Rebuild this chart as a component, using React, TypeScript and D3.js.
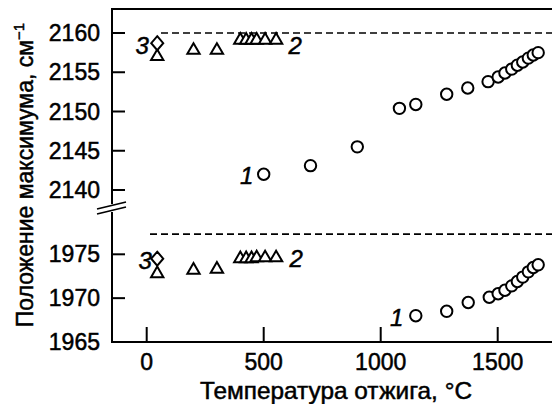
import React from 'react';
import { scaleLinear, symbol, symbolTriangle } from 'd3';

// series 1 (circles), 2 (triangles), 3 (diamond) — upper band and lower band
const tempCircUp = [500, 700, 900, 1080, 1150, 1282, 1372, 1459, 1502, 1531, 1560, 1584, 1607, 1631, 1652, 1673];
const valCircUp = [2142.0, 2143.1, 2145.5, 2150.4, 2150.9, 2152.2, 2153.0, 2153.8, 2154.4, 2154.9, 2155.4, 2155.9, 2156.3, 2156.8, 2157.2, 2157.5];
const tempCircLo = [1150, 1282, 1374, 1464, 1502, 1531, 1560, 1584, 1607, 1631, 1652, 1673];
const valCircLo = [1968.0, 1968.5, 1969.5, 1970.1, 1970.5, 1970.9, 1971.4, 1971.9, 1972.4, 1973.0, 1973.5, 1973.8];
const tempTri = [45, 200, 300, 400, 425, 448, 470, 506, 553];
const valTriUp = [2157.0, 2157.8, 2157.8, 2159.1, 2159.1, 2159.1, 2159.1, 2159.1, 2159.1];
const valTriLo = [1972.8, 1973.2, 1973.3, 1974.5, 1974.5, 1974.5, 1974.6, 1974.6, 1974.6];
const tempDiam = [45];
const valDiamUp = [2158.7];
const valDiamLo = [1974.5];
const refUp = 2160;
const refLo = 1977.3;
const ticksX = [0, 500, 1000, 1500];
const ticksUp = [2140, 2145, 2150, 2155, 2160];
const ticksLo = [1965, 1970, 1975];

const W = 552, H = 404;
const left = 112, right = 552, top = 9, bottom = 342;
const breakUp = 204, breakLo = 212;

const font = '"Liberation Sans", Arial, sans-serif';
const txt = { fontFamily: font, stroke: 'black', strokeWidth: 0.5 };

export default function App() {
  const x = scaleLinear().domain([0, 1500]).range([146.7, 497.7]);
  const yUp = scaleLinear().domain([2140, 2160]).range([190, 33]);
  const yLo = scaleLinear().domain([1965, 1975]).range([bottom, 254.3]);
  const tri = symbol().type(symbolTriangle).size(66)();

  const circles = (ts: number[], vs: number[], y: (v: number) => number, k: string) =>
    ts.map((t, i) => (
      <circle key={k + i} cx={x(t)} cy={y(vs[i])} r={5.7} fill="white" stroke="black" strokeWidth={2} />
    ));
  const triangles = (vs: number[], y: (v: number) => number, k: string) =>
    tempTri.map((t, i) => (
      <path key={k + i} d={tri} transform={`translate(${x(t)},${y(vs[i])})`} fill="white" stroke="black" strokeWidth={2} />
    ));
  const diamonds = (vs: number[], y: (v: number) => number, k: string) =>
    tempDiam.map((t, i) => (
      <path key={k + i} d="M0,-7L6,0L0,7L-6,0Z" transform={`translate(${x(t)},${y(vs[i])})`} fill="white" stroke="black" strokeWidth={2} />
    ));
  const lbl = (s: string, cx: number, cy: number) => (
    <text x={cx} y={cy} textAnchor="middle" dominantBaseline="central" fontStyle="italic" fontSize={24} {...txt}>{s}</text>
  );

  return (
    <svg width={W} height={H} style={{ position: 'absolute', left: 0, top: 0, background: 'white' }}>
      {/* frame */}
      <line x1={left} x2={right} y1={top} y2={top} stroke="black" strokeWidth={2} />
      <line x1={left} x2={left} y1={top - 1} y2={breakUp} stroke="black" strokeWidth={2} />
      <line x1={left} x2={left} y1={breakLo} y2={bottom + 1} stroke="black" strokeWidth={2} />
      <line x1={left - 1} x2={right} y1={bottom} y2={bottom} stroke="black" strokeWidth={2} />
      {/* axis break */}
      <line x1={97} x2={126} y1={209} y2={202} stroke="black" strokeWidth={1.8} />
      <line x1={97} x2={126} y1={214} y2={207} stroke="black" strokeWidth={1.8} />

      {/* ref lines */}
      <line x1={161} x2={right} y1={yUp(refUp)} y2={yUp(refUp)} stroke="black" strokeWidth={1.6} strokeDasharray="7,4" />
      <line x1={150} x2={right} y1={yLo(refLo)} y2={yLo(refLo)} stroke="black" strokeWidth={1.6} strokeDasharray="7,4" />

      {/* y ticks */}
      {ticksUp.map(t => (
        <g key={'u' + t}>
          <line x1={left} x2={left + 13} y1={yUp(t)} y2={yUp(t)} stroke="black" strokeWidth={2} />
          <text x={100} y={yUp(t)} textAnchor="end" dominantBaseline="central" fontSize={23} {...txt}>{t}</text>
        </g>
      ))}
      {ticksLo.map(t => (
        <g key={'l' + t}>
          {t !== 1965 && <line x1={left} x2={left + 13} y1={yLo(t)} y2={yLo(t)} stroke="black" strokeWidth={2} />}
          <text x={100} y={yLo(t)} textAnchor="end" dominantBaseline="central" fontSize={23} {...txt}>{t}</text>
        </g>
      ))}
      {/* x ticks */}
      {ticksX.map(t => (
        <g key={'x' + t}>
          <line x1={x(t)} x2={x(t)} y1={bottom} y2={bottom - 15} stroke="black" strokeWidth={2} />
          <text x={x(t)} y={370} textAnchor="middle" fontSize={23} {...txt}>{t}</text>
        </g>
      ))}

      {/* markers */}
      {triangles(valTriUp, yUp, 'tu')}
      {triangles(valTriLo, yLo, 'tl')}
      {diamonds(valDiamUp, yUp, 'du')}
      {diamonds(valDiamLo, yLo, 'dl')}
      {circles(tempCircUp, valCircUp, yUp, 'cu')}
      {circles(tempCircLo, valCircLo, yLo, 'cl')}

      {/* series labels */}
      {lbl('3', x(tempDiam[0]) - 15, yUp(valDiamUp[0]) + 2)}
      {lbl('3', x(tempDiam[0]) - 12, yLo(valDiamLo[0]) + 2)}
      {lbl('2', x(tempTri[tempTri.length - 1]) + 19, yUp(valTriUp[valTriUp.length - 1]) + 5)}
      {lbl('2', x(tempTri[tempTri.length - 1]) + 20, yLo(valTriLo[valTriLo.length - 1]) + 1)}
      {lbl('1', x(tempCircUp[0]) - 17, yUp(valCircUp[0]) + 1)}
      {lbl('1', x(tempCircLo[0]) - 19, yLo(valCircLo[0]) + 2)}

      {/* axis titles */}
      <text x={336} y={399} textAnchor="middle" fontSize={24} textLength={272} lengthAdjust="spacingAndGlyphs" {...txt}>Температура отжига, °C</text>
      <text transform="translate(33,175) rotate(-90)" textAnchor="middle" fontSize={23} {...txt}>
        Положение максимума, см<tspan dy={-9} fontSize={15}>−1</tspan>
      </text>
    </svg>
  );
}
